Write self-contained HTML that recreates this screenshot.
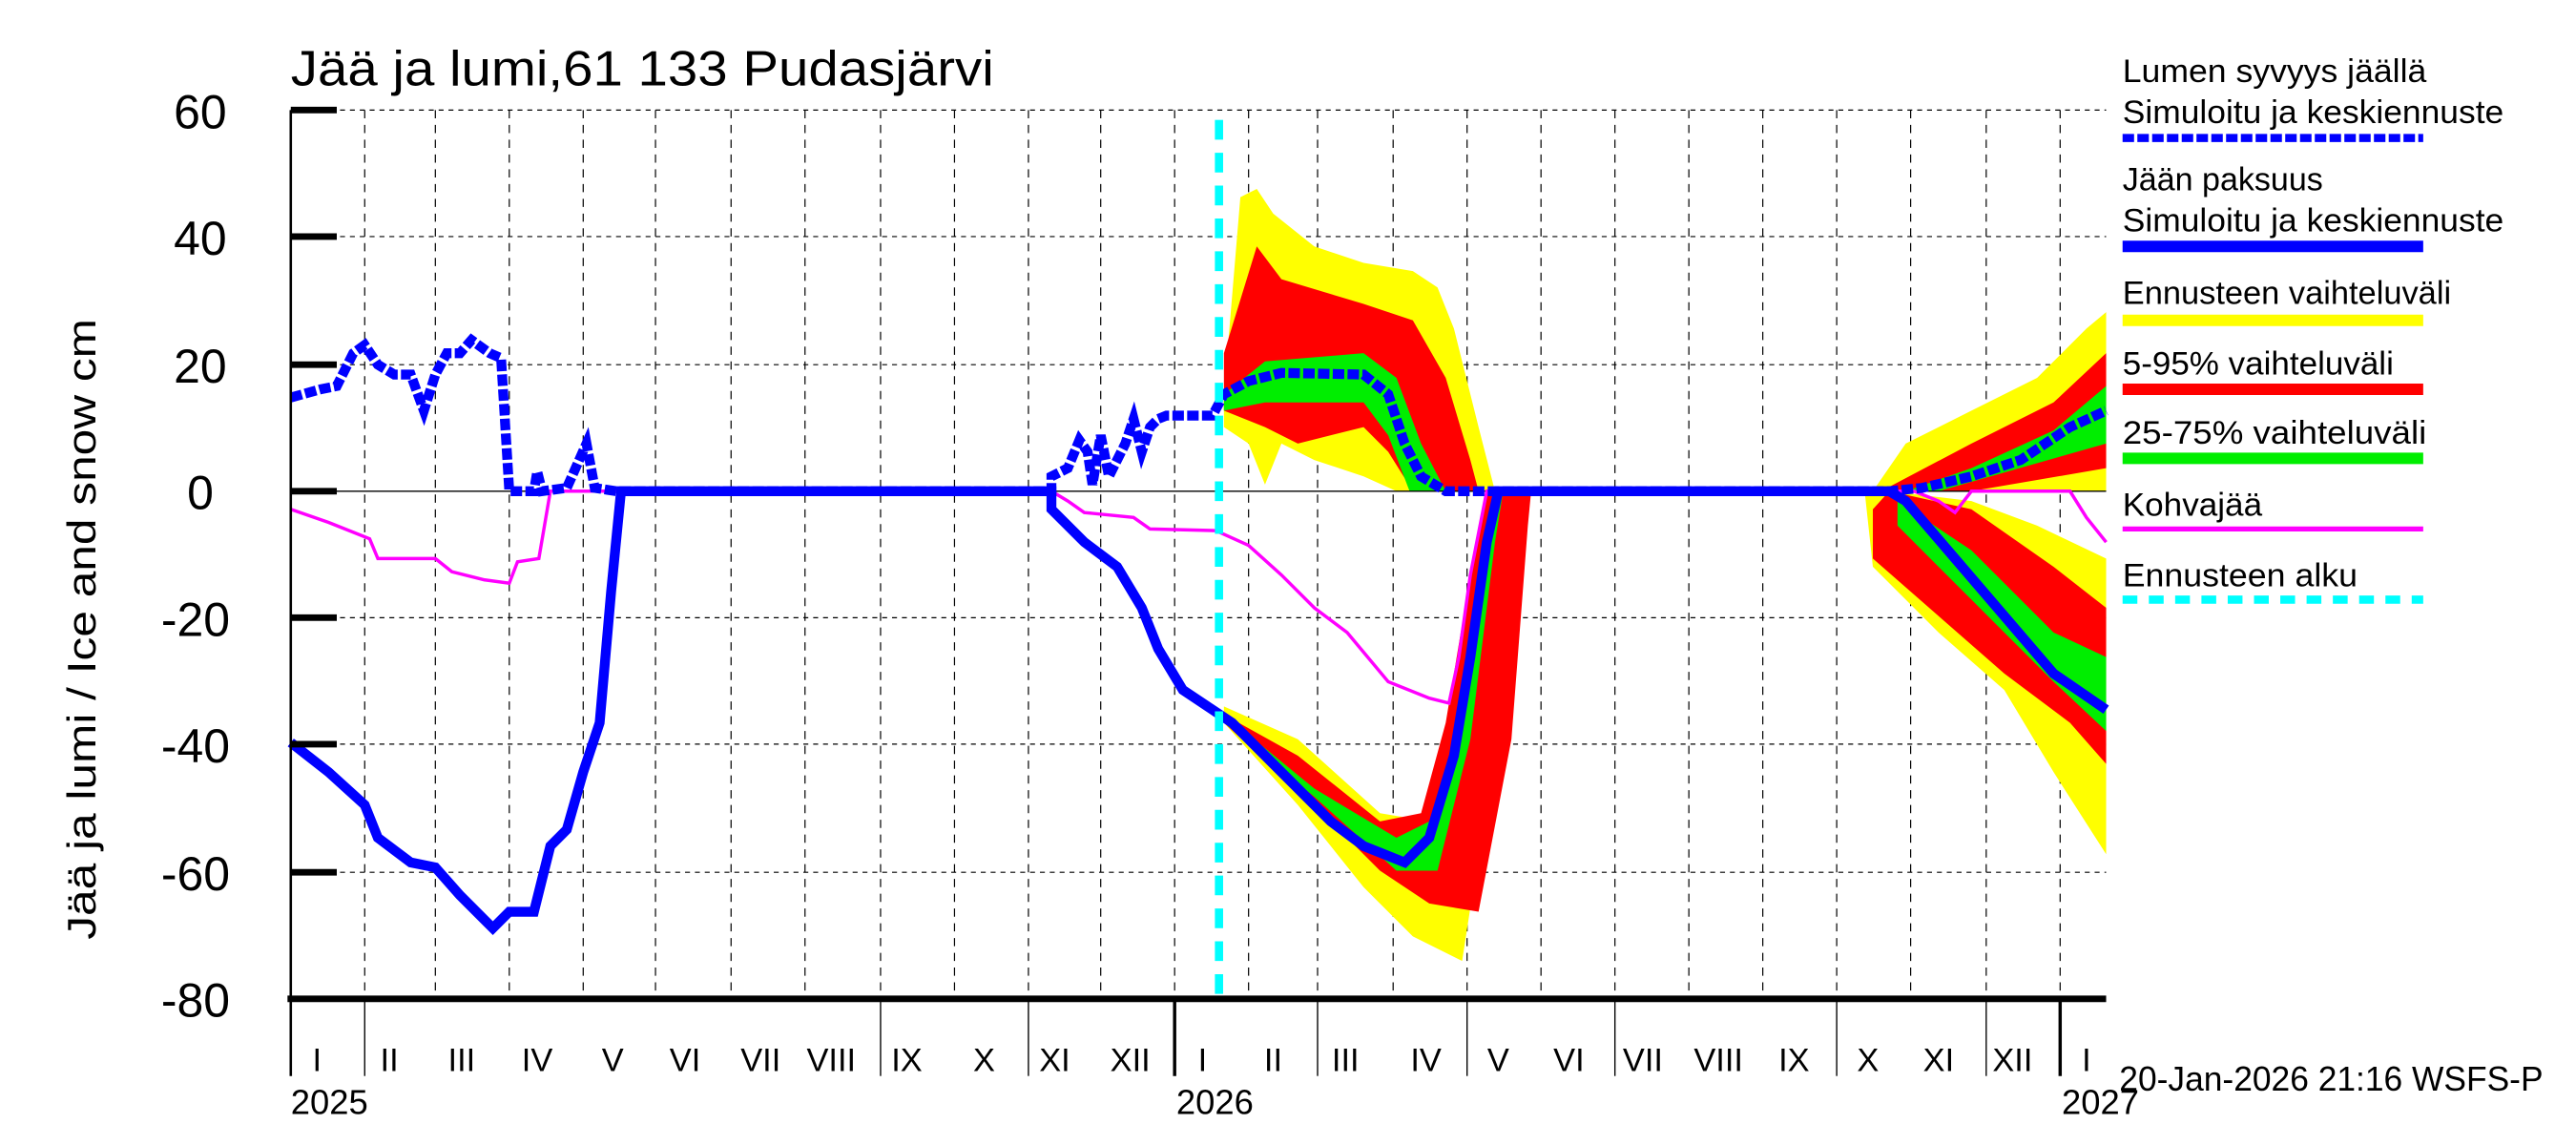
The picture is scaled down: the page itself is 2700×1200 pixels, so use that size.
<!DOCTYPE html>
<html><head><meta charset="utf-8"><style>html,body{margin:0;padding:0;background:#fff}svg{display:block}</style></head>
<body>
<svg xmlns="http://www.w3.org/2000/svg" width="2700" height="1200" viewBox="0 0 1568 697" preserveAspectRatio="none" font-family="'Liberation Sans',sans-serif">
<rect width="1568" height="697" fill="#fff"/>
<g stroke="#000" stroke-width="0.7" stroke-dasharray="3,3">
<line x1="177" y1="67" x2="1282" y2="67"/><line x1="177" y1="144" x2="1282" y2="144"/><line x1="177" y1="222" x2="1282" y2="222"/>
<line x1="177" y1="376" x2="1282" y2="376"/><line x1="177" y1="453" x2="1282" y2="453"/><line x1="177" y1="531" x2="1282" y2="531"/>
</g>
<g stroke="#000" stroke-width="0.7" stroke-dasharray="5,4">
<line x1="222" y1="67" x2="222" y2="608"/><line x1="265" y1="67" x2="265" y2="608"/><line x1="310" y1="67" x2="310" y2="608"/><line x1="355" y1="67" x2="355" y2="608"/><line x1="399" y1="67" x2="399" y2="608"/><line x1="445" y1="67" x2="445" y2="608"/><line x1="490" y1="67" x2="490" y2="608"/><line x1="536" y1="67" x2="536" y2="608"/><line x1="581" y1="67" x2="581" y2="608"/><line x1="626" y1="67" x2="626" y2="608"/><line x1="670" y1="67" x2="670" y2="608"/><line x1="715" y1="67" x2="715" y2="608"/><line x1="760" y1="67" x2="760" y2="608"/><line x1="802" y1="67" x2="802" y2="608"/><line x1="848" y1="67" x2="848" y2="608"/><line x1="893" y1="67" x2="893" y2="608"/><line x1="938" y1="67" x2="938" y2="608"/><line x1="983" y1="67" x2="983" y2="608"/><line x1="1028" y1="67" x2="1028" y2="608"/><line x1="1073" y1="67" x2="1073" y2="608"/><line x1="1118" y1="67" x2="1118" y2="608"/><line x1="1163" y1="67" x2="1163" y2="608"/><line x1="1209" y1="67" x2="1209" y2="608"/><line x1="1254" y1="67" x2="1254" y2="608"/>
</g>
<polygon fill="#ff0" points="745,240 755,120 765,115 775,130 800,150 830,160 860,165 875,175 885,200 900,260 910,299 850,299 830,290 800,280 780,270 770,295 760,270 745,260"/>
<polygon fill="#f00" points="745,215 765,150 780,170 830,185 860,195 880,230 895,280 900,299 860,299 845,275 830,260 790,270 770,260 745,250"/>
<polygon fill="#0e0" points="745,240 770,220 830,215 850,230 865,270 880,299 858,299 845,265 830,245 770,245 745,250"/>
<polygon fill="#ff0" points="745,430 790,450 840,495 870,500 890,430 905,320 910,299 912,299 900,520 890,585 860,570 830,540 790,490 745,440"/>
<polygon fill="#f00" points="745,435 790,460 840,500 865,495 880,440 895,350 905,299 932,299 930,320 920,450 900,555 870,550 840,530 800,490 745,440"/>
<polygon fill="#0e0" points="745,435 800,480 850,510 870,500 890,440 905,330 910,299 915,299 910,330 895,450 875,530 850,530 800,485 745,440"/>
<polygon fill="#ff0" points="1140,299 1160,270 1200,250 1240,230 1270,200 1282,190 1282,299"/>
<polygon fill="#f00" points="1145,299 1200,270 1250,245 1282,215 1282,285 1200,299"/>
<polygon fill="#0e0" points="1160,299 1200,285 1250,262 1282,235 1282,270 1180,299"/>
<polygon fill="#ff0" points="1135,299 1150,299 1200,305 1240,320 1282,340 1282,520 1250,470 1220,420 1180,385 1140,345"/>
<polygon fill="#f00" points="1140,310 1150,299 1200,310 1250,345 1282,370 1282,465 1260,440 1220,410 1180,375 1140,340"/>
<polygon fill="#0e0" points="1155,305 1200,335 1250,385 1282,400 1282,445 1250,415 1200,365 1155,320"/>
<line x1="177" y1="299" x2="1282" y2="299" stroke="#000" stroke-width="0.8"/>
<polyline fill="none" stroke="#f0f" stroke-width="2" points="177,310 200,318 225,328 230,340 265,340 275,348 295,353 310,355 315,342 328,340 335,299 640,299 650,305 660,312 690,315 700,322 740,323 760,332 780,350 800,370 820,385 845,415 870,425 882,428 888,400 895,350 905,299 1165,299 1180,305 1190,312 1200,299 1260,299 1270,315 1282,330"/>
<polyline fill="none" stroke="#00f" stroke-width="6" stroke-dasharray="7,2" points="177,242 195,237 205,235 215,215 222,210 230,222 240,228 250,228 258,250 265,228 272,215 280,215 287,207 298,215 305,218 310,299 325,299 327,287 330,299 345,297 357,270 362,297 375,299 640,299 640,290 650,285 657,268 662,275 665,295 670,265 675,290 685,270 690,255 695,275 700,260 705,255 710,253 738,253 745,240 760,232 780,227 830,228 845,240 855,270 865,290 880,299 1150,299 1170,297 1200,290 1230,280 1260,260 1282,250"/>
<polyline fill="none" stroke="#00f" stroke-width="6" points="177,452 200,470 222,490 230,510 250,525 265,528 280,545 300,565 310,555 325,555 335,515 345,505 355,470 365,440 372,360 378,299 640,299 640,310 660,330 680,345 695,370 705,395 720,420 735,430 750,440 780,470 810,500 830,515 855,525 870,510 885,460 895,400 905,330 912,299 1150,299 1160,305 1190,340 1220,375 1250,410 1282,432"/>
<line x1="742" y1="73" x2="742" y2="608" stroke="#0ff" stroke-width="5" stroke-dasharray="12,8"/>
<line x1="177" y1="67" x2="177" y2="655" stroke="#000" stroke-width="1.5"/>
<line x1="175" y1="608" x2="1282" y2="608" stroke="#000" stroke-width="4"/>
<g stroke="#000" stroke-width="4"><line x1="177" y1="67" x2="205" y2="67"/><line x1="177" y1="144" x2="205" y2="144"/><line x1="177" y1="222" x2="205" y2="222"/><line x1="177" y1="299" x2="205" y2="299"/><line x1="177" y1="376" x2="205" y2="376"/><line x1="177" y1="453" x2="205" y2="453"/><line x1="177" y1="531" x2="205" y2="531"/></g>
<g stroke="#000" stroke-width="0.8"><line x1="222" y1="608" x2="222" y2="655"/><line x1="536" y1="608" x2="536" y2="655"/><line x1="626" y1="608" x2="626" y2="655"/><line x1="802" y1="608" x2="802" y2="655"/><line x1="893" y1="608" x2="893" y2="655"/><line x1="983" y1="608" x2="983" y2="655"/><line x1="1118" y1="608" x2="1118" y2="655"/><line x1="1209" y1="608" x2="1209" y2="655"/></g>
<line x1="715" y1="608" x2="715" y2="655" stroke="#000" stroke-width="2"/><line x1="1254" y1="608" x2="1254" y2="655" stroke="#000" stroke-width="2"/>
<g font-size="29" text-anchor="end"><text x="138" y="78">60</text><text x="138" y="155">40</text><text x="138" y="233">20</text><text x="130" y="310">0</text><text x="140" y="387">-20</text><text x="140" y="464">-40</text><text x="140" y="542">-60</text><text x="140" y="619">-80</text></g>
<text transform="translate(58,383) rotate(-90)" font-size="24" text-anchor="middle" textLength="378" lengthAdjust="spacingAndGlyphs">Jää ja lumi / Ice and snow    cm</text>
<text x="177" y="52" font-size="30" textLength="428" lengthAdjust="spacingAndGlyphs">Jää ja lumi,61 133 Pudasjärvi</text>
<g font-size="20" text-anchor="middle"><text x="193" y="652">I</text><text x="237" y="652">II</text><text x="281" y="652">III</text><text x="327" y="652">IV</text><text x="373" y="652">V</text><text x="417" y="652">VI</text><text x="463" y="652">VII</text><text x="506" y="652">VIII</text><text x="552" y="652">IX</text><text x="599" y="652">X</text><text x="642" y="652">XI</text><text x="688" y="652">XII</text><text x="732" y="652">I</text><text x="775" y="652">II</text><text x="819" y="652">III</text><text x="868" y="652">IV</text><text x="912" y="652">V</text><text x="955" y="652">VI</text><text x="1000" y="652">VII</text><text x="1046" y="652">VIII</text><text x="1092" y="652">IX</text><text x="1137" y="652">X</text><text x="1180" y="652">XI</text><text x="1225" y="652">XII</text><text x="1270" y="652">I</text></g>
<g font-size="21"><text x="177" y="678" textLength="47" lengthAdjust="spacingAndGlyphs">2025</text><text x="716" y="678" textLength="47" lengthAdjust="spacingAndGlyphs">2026</text><text x="1255" y="678" textLength="47" lengthAdjust="spacingAndGlyphs">2027</text><text x="1290" y="664" textLength="258" lengthAdjust="spacingAndGlyphs">20-Jan-2026 21:16 WSFS-P</text></g>
<g font-size="20"><text x="1292" y="50" textLength="185" lengthAdjust="spacingAndGlyphs">Lumen syvyys jäällä</text><text x="1292" y="75" textLength="232" lengthAdjust="spacingAndGlyphs">Simuloitu ja keskiennuste</text><text x="1292" y="116" textLength="122" lengthAdjust="spacingAndGlyphs">Jään paksuus</text><text x="1292" y="141" textLength="232" lengthAdjust="spacingAndGlyphs">Simuloitu ja keskiennuste</text><text x="1292" y="185" textLength="200" lengthAdjust="spacingAndGlyphs">Ennusteen vaihteluväli</text><text x="1292" y="228" textLength="165" lengthAdjust="spacingAndGlyphs">5-95% vaihteluväli</text><text x="1292" y="270" textLength="185" lengthAdjust="spacingAndGlyphs">25-75% vaihteluväli</text><text x="1292" y="314" textLength="85" lengthAdjust="spacingAndGlyphs">Kohvajää</text><text x="1292" y="357" textLength="143" lengthAdjust="spacingAndGlyphs">Ennusteen alku</text></g>
<line x1="1292" y1="84" x2="1475" y2="84" stroke="#00f" stroke-width="5" stroke-dasharray="7,2"/>
<line x1="1292" y1="150" x2="1475" y2="150" stroke="#00f" stroke-width="7"/>
<line x1="1292" y1="195" x2="1475" y2="195" stroke="#ff0" stroke-width="7"/>
<line x1="1292" y1="237" x2="1475" y2="237" stroke="#f00" stroke-width="7"/>
<line x1="1292" y1="279" x2="1475" y2="279" stroke="#0e0" stroke-width="7"/>
<line x1="1292" y1="322" x2="1475" y2="322" stroke="#f0f" stroke-width="3"/>
<line x1="1292" y1="365" x2="1475" y2="365" stroke="#0ff" stroke-width="5" stroke-dasharray="9,7"/>
</svg>
</body></html>
